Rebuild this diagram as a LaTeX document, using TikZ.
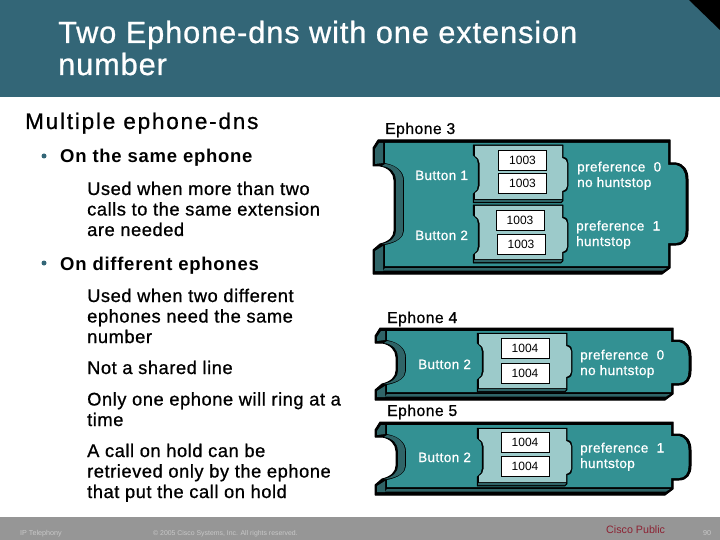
\documentclass[tikz,border=0pt]{standalone}
\usepackage{fontspec}
\setmainfont{Liberation Sans}
\newfontfamily\medf[FakeBold=0.8,LetterSpace=3]{Liberation Sans}
\newfontfamily\widef[FakeBold=0.8,LetterSpace=8]{Liberation Sans}
\newfontfamily\boldf[LetterSpace=4]{Liberation Sans}
\newfontfamily\plainf{Liberation Sans}
\definecolor{headc}{HTML}{336677}
\definecolor{panelc}{HTML}{339193}
\definecolor{facetc}{HTML}{2F6467}
\definecolor{tilec}{HTML}{9CCACA}
\definecolor{footc}{HTML}{969696}
\definecolor{foott}{HTML}{C8C8C8}
\definecolor{redt}{HTML}{8C2233}
\tikzset{
  txt/.style={anchor=base west,inner sep=0pt,align=left},
  titletxt/.style={txt,text=white,font=\fontsize{30.7}{32}\medf},
  headtxt/.style={txt,text=black,font=\fontsize{22.5}{24}\widef},
  subtxt/.style={txt,text=black,font=\fontsize{18.5}{20.5}\boldf\bfseries},
  bodytxt/.style={txt,text=black,font=\fontsize{18.3}{20.5}\medf},
  ephtxt/.style={txt,text=black,font=\fontsize{15.7}{17}\medf},
  paneltxt/.style={txt,text=white,font=\fontsize{13.5}{15.5}\medf},
  btntxt/.style={txt,text=white,font=\fontsize{13.5}{15}\medf},
  numbox/.style={draw=black,line width=0.7pt,fill=white,inner sep=0pt,text=black,font=\fontsize{12}{12}\plainf,minimum width=48pt,minimum height=20pt},
  foottxt/.style={txt,text=foott,font=\fontsize{7.2}{9}\plainf},
  bul/.style={circle,fill=headc,inner sep=0pt,minimum size=5pt}
}
% panel: xL, top, notch top, notch bottom, xR, bottom
\newcommand{\phonepanel}[6]{%
  \fill[black,line join=round,draw=black,line width=1pt]
    (#1,#2+8) -- (#1+5,#2) -- (#5,#2) -- (#5,#3) -- (#5+6,#3)
    .. controls (#5+14,#3+1) and (#5+18,#3+8) .. (#5+18,#3+16)
    -- (#5+18,#4-14) .. controls (#5+18,#4-6) and (#5+14,#4) .. (#5+6,#4)
    -- (#5,#4) -- (#5,#6-6) -- (#5-8,#6) -- (#1,#6) -- (#1,#4+5) -- (#1+7,#4-1)
    .. controls (#1+16,#4-3) and (#1+21,#4-8) .. (#1+21,#4-14)
    -- (#1+21,#3+17) .. controls (#1+21,#3+10) and (#1+15,#3+4) .. (#1+7,#3+3)
    -- (#1,#3+3) -- cycle;
  \fill[facetc]
    (#1+2,#2+9) -- (#1+6,#2+3) -- (#1+10,#2+3) -- (#1+10,#3) -- (#1+2,#3+1) -- cycle
    (#1+2,#4+6) -- (#1+10,#4+1) -- (#1+10,#6-3) -- (#1+2,#6-3) -- cycle
    (#1+9,#3+3) .. controls (#1+18,#3+4) and (#1+23,#3+10) .. (#1+23,#3+17)
    -- (#1+23,#4-14) .. controls (#1+23,#4-8) and (#1+18,#4-3) .. (#1+9,#4-1)
    -- (#1+12,#4-1) .. controls (#1+24,#4-3) and (#1+30,#4-8) .. (#1+30,#4-14)
    -- (#1+30,#3+17) .. controls (#1+30,#3+10) and (#1+24,#3+2) .. (#1+12,#3+1) -- cycle;
  \fill[panelc]
    (#1+12,#2+3) -- (#5-2,#2+3) -- (#5-2,#3+2) -- (#5+6,#3+2)
    .. controls (#5+12,#3+3) and (#5+15.5,#3+9) .. (#5+15.5,#3+16)
    -- (#5+15.5,#4-14) .. controls (#5+15.5,#4-7) and (#5+12,#4-2) .. (#5+6,#4-2)
    -- (#5-2,#4-2) -- (#5-2,#6-8) -- (#1+12,#6-8) -- (#1+12,#4)
    .. controls (#1+24,#4-2) and (#1+31,#4-8) .. (#1+31,#4-14)
    -- (#1+31,#3+17) .. controls (#1+31,#3+9) and (#1+24,#3+2) .. (#1+12,#3) -- cycle;
  \draw[black,line width=0.9pt] (#1+30.5,#3+17) -- (#1+30.5,#4-14);
  \fill[facetc] (#1+12,#6-6) -- (#5-3,#6-6) -- (#5-7,#6-3.5) -- (#1+10,#6-3.5) -- cycle;
}
% tile: xL, top, notch top, notch bottom, xR, bottom
\newcommand{\tile}[6]{%
  \fill[black,draw=black,line width=0.5pt,line join=round]
    (#1,#2) -- (#5-5,#2) -- (#5-5,#3) .. controls (#5-1,#3+1) and (#5,#3+3) .. (#5,#3+6)
    -- (#5,#4-6) .. controls (#5,#4-3) and (#5-1,#4-1) .. (#5-5,#4)
    -- (#5-5,#6-2) -- (#5-7,#6) -- (#1,#6) -- (#1,#4+2) -- (#1+2,#4)
    .. controls (#1+4,#4-1) and (#1+5,#4-3) .. (#1+5,#4-6)
    -- (#1+5,#3+6) .. controls (#1+5,#3+3) and (#1+4,#3+1) .. (#1+2,#3)
    -- (#1,#3-2) -- cycle;
  \fill[facetc] (#1+1,#6-3) -- (#5-6,#6-3) -- (#5-7,#6-1) -- (#1+1,#6-1) -- cycle;
  \fill[tilec]
    (#1+2,#2+1) -- (#5-6,#2+1) -- (#5-6,#3+1) .. controls (#5-2.5,#3+2) and (#5-1,#3+4) .. (#5-1,#3+6)
    -- (#5-1,#4-6) .. controls (#5-1,#4-4) and (#5-2.5,#4-2) .. (#5-6,#4-1)
    -- (#5-6,#6-4) -- (#1+2,#6-4) -- (#1+2,#4+1)
    .. controls (#1+5,#4-1) and (#1+6.5,#4-3) .. (#1+6.5,#4-6)
    -- (#1+6.5,#3+6) .. controls (#1+6.5,#3+3) and (#1+5,#3+1) .. (#1+2,#3-1) -- cycle;
}
\begin{document}
\begin{tikzpicture}[x=1pt,y=-1pt]
\useasboundingbox (0,0) rectangle (720,540);
\fill[white] (0,0) rectangle (720,540);
\fill[headc] (0,0) rectangle (720,97);
\fill[black] (689,0) -- (720,0) -- (720,30) -- cycle;
\fill[footc] (0,517) rectangle (720,540);
\node[titletxt] (title) at (58,75) {Two Ephone-dns with one extension\\number};
\node[headtxt] (head) at (25,129) {Multiple ephone-dns};
\node[bul] (b1) at (44,156) {};
\node[subtxt] (s1) at (60,163) {On the same ephone};
\node[bodytxt] (p1) at (87,236) {Used when more than two\\calls to the same extension\\are needed};
\node[bul] (b2) at (44,263) {};
\node[subtxt] (s2) at (60,270) {On different ephones};
\node[bodytxt] (p2) at (87,343) {Used when two different\\ephones need the same\\number};
\node[bodytxt] (p3) at (87,374) {Not a shared line};
\node[bodytxt] (p4) at (87,426) {Only one ephone will ring at a\\time};
\node[bodytxt] (p5) at (87,498) {A call on hold can be\\retrieved only by the ephone\\that put the call on hold};
\node[ephtxt] (e3) at (385,134) {Ephone 3};
\node[ephtxt] (e4) at (387,323) {Ephone 4};
\node[ephtxt] (e5) at (387,416) {Ephone 5};
\phonepanel{373}{140}{163}{245}{670}{274}
\phonepanel{375}{328}{340}{385}{673}{400}
\phonepanel{375}{422}{434}{480}{673}{495}
\tile{473}{145}{157}{192}{568}{203}
\tile{473}{205}{217}{253}{568}{263}
\tile{477}{333}{345}{378}{572}{392}
\tile{477}{428}{440}{475}{572}{486}
\node[numbox] (n1) at (522.5,160.5) {1003};
\node[numbox] (n2) at (522.5,183) {1003};
\node[numbox] (n3) at (520,220) {1003};
\node[numbox] (n4) at (521,244) {1003};
\node[numbox] (n5) at (525,348) {1004};
\node[numbox] (n6) at (525,373) {1004};
\node[numbox] (n7) at (525,442) {1004};
\node[numbox] (n8) at (525,466.5) {1004};
\node[btntxt] (bb1) at (415,180) {Button 1};
\node[btntxt] (bb2) at (415,240) {Button 2};
\node[btntxt] (bb3) at (418,369) {Button 2};
\node[btntxt] (bb4) at (418,462) {Button 2};
\node[paneltxt] (t1) at (577,187) {preference~~0\\no huntstop};
\node[paneltxt] (t2) at (576,246) {preference~~1\\huntstop};
\node[paneltxt] (t3) at (580,375) {preference~~0\\no huntstop};
\node[paneltxt] (t4) at (580,468) {preference~~1\\huntstop};
\node[foottxt] (f1) at (20,535) {IP Telephony};
\node[foottxt,font=\fontsize{6.9}{9}\plainf] (f2) at (153,535) {© 2005 Cisco Systems, Inc. All rights reserved.};
\node[txt,text=redt,font=\fontsize{10.7}{12}\plainf] (f3) at (606,533) {Cisco Public};
\node[foottxt] (f4) at (703,535) {90};
\end{tikzpicture}
\end{document}
